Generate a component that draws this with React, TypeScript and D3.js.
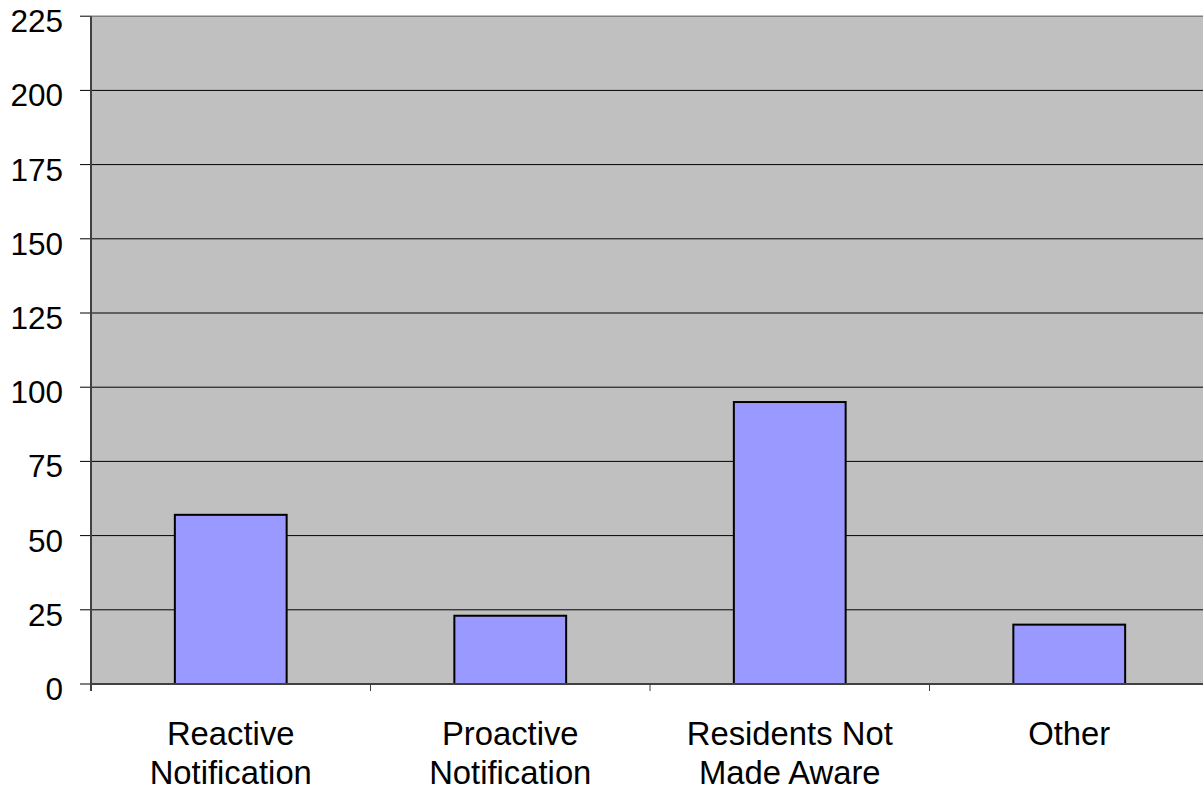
import React from "react";
import * as d3 from "d3";

const categories: string[][] = [
  ["Reactive", "Notification"],
  ["Proactive", "Notification"],
  ["Residents Not", "Made Aware"],
  ["Other"],
];
const values: number[] = [57, 23, 95, 20];
const yTicks: number[] = [0, 25, 50, 75, 100, 125, 150, 175, 200, 225];

const W = 1203;
const H = 790;
const left = 91;
const right = 1209;
const top = 16.2;
const bottom = 684;
const FONT = "'Liberation Sans', Arial, sans-serif";

export default function App() {
  const keys = categories.map((_, i) => String(i));
  const x = d3.scaleBand<string>().domain(keys).range([left, right]).paddingInner(0).paddingOuter(0);
  const y = d3.scaleLinear().domain([0, 225]).range([bottom, top]);
  const bw = x.bandwidth() * 0.4;

  return (
    <svg width={W} height={H} style={{ position: "absolute", left: 0, top: 0, display: "block" }}>
      <rect x={left} y={top} width={right - left} height={bottom - top} fill="#c0c0c0" />
      <line x1={left} x2={right} y1={top} y2={top} stroke="#808080" strokeWidth={1.5} />
      {yTicks.map((t) => (
        <g key={t}>
          {t > 0 && t < 225 && (
            <line x1={left} x2={right} y1={y(t)} y2={y(t)} stroke="#000" strokeWidth={1} />
          )}
          <line x1={left - 11} x2={left} y1={y(t)} y2={y(t)} stroke="#000" strokeWidth={1} />
          <text x={63} y={y(t) + 16} textAnchor="end" fontFamily={FONT} fontSize={31.5} fill="#000">
            {t}
          </text>
        </g>
      ))}
      {values.map((v, i) => {
        const cx = (x(String(i)) as number) + x.bandwidth() / 2;
        return (
          <rect
            key={i}
            x={cx - bw / 2}
            y={y(v)}
            width={bw}
            height={bottom - y(v)}
            fill="#9999ff"
            stroke="#000"
            strokeWidth={2}
          />
        );
      })}
      <line x1={left} x2={left} y1={top} y2={bottom + 7} stroke="#404040" strokeWidth={2} />
      <line x1={left} x2={right} y1={bottom} y2={bottom} stroke="#404040" strokeWidth={2} />
      {keys.map((k, i) =>
        i > 0 ? (
          <line key={k} x1={x(k)} x2={x(k)} y1={bottom} y2={bottom + 7} stroke="#404040" strokeWidth={1} />
        ) : null
      )}
      {categories.map((lines, i) => {
        const cx = (x(String(i)) as number) + x.bandwidth() / 2;
        return (
          <text key={i} textAnchor="middle" fontFamily={FONT} fontSize={32.8} fill="#000">
            {lines.map((l, j) => (
              <tspan key={j} x={cx} y={745 + j * 39}>
                {l}
              </tspan>
            ))}
          </text>
        );
      })}
    </svg>
  );
}
